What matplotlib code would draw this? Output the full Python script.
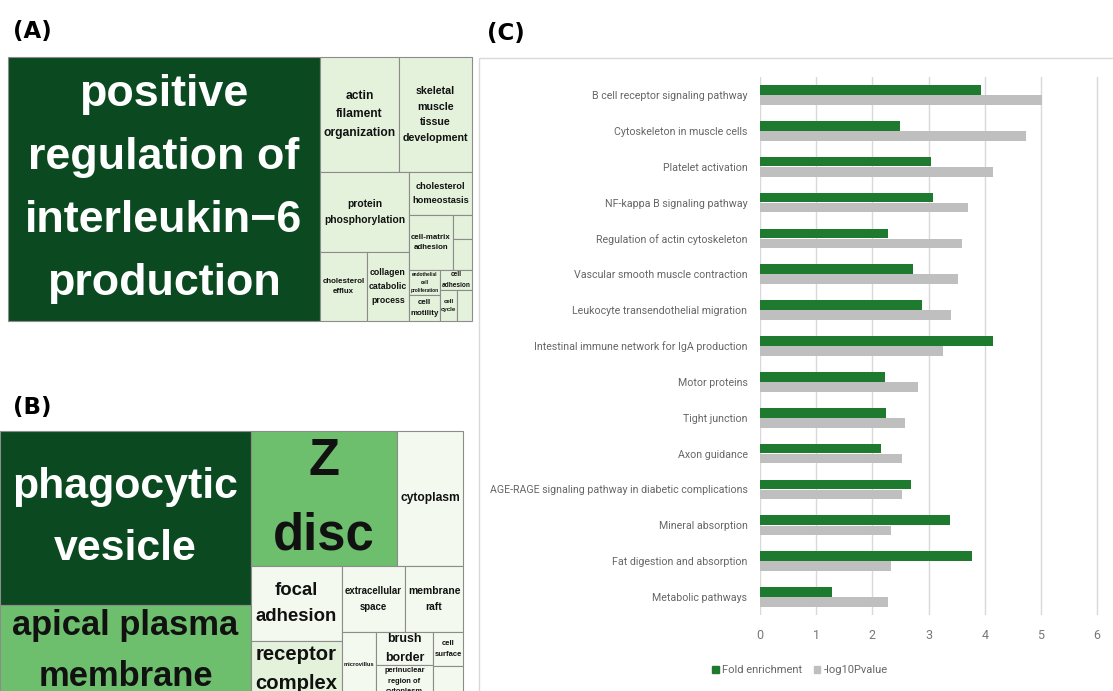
import matplotlib
matplotlib.use("Agg")
import matplotlib.pyplot as plt
from matplotlib.patches import Rectangle, Patch
import numpy as np


# ---------------- data ---------------- #

# (A) GO biological process treemap (term size ~ area)
bp_terms = ["positive\nregulation of\ninterleukin\u22126\nproduction",
            "actin\nfilament\norganization",
            "skeletal\nmuscle\ntissue\ndevelopment",
            "protein\nphosphorylation",
            "cholesterol\nefflux",
            "collagen\ncatabolic\nprocess",
            "cholesterol\nhomeostasis",
            "cell-matrix\nadhesion",
            "", "",
            "endothelial\ncell\nproliferation",
            "cell\nmotility",
            "cell\nadhesion",
            "cell\ncycle",
            ""]
bp_sizes = [823.7, 90.9, 84.0, 71.2, 32.4, 29.0, 27.1, 24.2, 4.6, 5.9,
            7.8, 8.1, 6.4, 5.3, 4.7]
bp_group = [3, 1, 1, 1, 1, 1, 1, 1, 1, 1, 1, 1, 1, 1, 1]

# (B) GO cellular component treemap
cc_terms = ["phagocytic\nvesicle",
            "apical plasma\nmembrane",
            "Z\ndisc",
            "cytoplasm",
            "focal\nadhesion",
            "receptor\ncomplex",
            "extracellular\nspace",
            "membrane\nraft",
            "microvillus",
            "brush\nborder",
            "perinuclear\nregion of\ncytoplasm",
            "cell\nsurface",
            ""]
cc_sizes = [436.7, 230.9, 197.1, 89.1, 68.3, 51.0, 41.6, 38.3, 22.1, 18.8,
            18.2, 10.2, 9.3]
cc_group = [3, 2, 2, 0, 0, 1, 0, 0, 0, 0, 0, 0, 0]

# (C) KEGG pathways
pathways = ["B cell receptor signaling pathway",
            "Cytoskeleton in muscle cells",
            "Platelet activation",
            "NF-kappa B signaling pathway",
            "Regulation of actin cytoskeleton",
            "Vascular smooth muscle contraction",
            "Leukocyte transendothelial migration",
            "Intestinal immune network for IgA production",
            "Motor proteins",
            "Tight junction",
            "Axon guidance",
            "AGE-RAGE signaling pathway in diabetic complications",
            "Mineral absorption",
            "Fat digestion and absorption",
            "Metabolic pathways"]
fold_enrichment = [3.94, 2.50, 3.05, 3.07, 2.27, 2.72, 2.88, 4.14, 2.23,
                   2.24, 2.16, 2.69, 3.39, 3.77, 1.29]
neg_log10_p = [5.02, 4.74, 4.15, 3.71, 3.59, 3.52, 3.40, 3.25, 2.82,
               2.58, 2.53, 2.52, 2.34, 2.33, 2.28]

# slice-and-dice structure of the treemaps ("h" = side by side, "v" = stacked)
bp_tree = ("h", [0, ("v", [("h", [1, 2]),
                           ("h", [("v", [3, ("h", [4, 5])]),
                                  ("v", [6, ("h", [7, ("v", [8, 9])]),
                                         ("h", [("v", [10, 11]),
                                                ("v", [12, ("h", [13, 14])])])])])])])
cc_tree = ("h", [("v", [0, 1]),
                 ("v", [("h", [2, 3]),
                        ("h", [("v", [4, 5]),
                               ("v", [("h", [6, 7]),
                                      ("h", [8, ("v", [9, 10]), ("v", [11, 12])])])])])])

tm_colors = ["#f3f9ef", "#e4f2dc", "#6dbf6d", "#0b4a20"]


# ---------------- treemap helpers ---------------- #

def node_total(node, sizes):
    if isinstance(node, int):
        return sizes[node]
    return sum(node_total(k, sizes) for k in node[1])


def slice_layout(node, sizes, x0, y0, x1, y1, out):
    if isinstance(node, int):
        out[node] = (x0, y0, x1, y1)
        return
    direction, kids = node
    totals = [node_total(k, sizes) for k in kids]
    s = sum(totals)
    pos = x0 if direction == "h" else y0
    for k, t in zip(kids, totals):
        if direction == "h":
            step = (x1 - x0) * t / s
            slice_layout(k, sizes, pos, y0, pos + step, y1, out)
        else:
            step = (y1 - y0) * t / s
            slice_layout(k, sizes, x0, pos, x1, pos + step, out)
        pos += step


def draw_treemap(ax, renderer, tree, terms, sizes, groups, rect):
    boxes = {}
    slice_layout(tree, sizes, *rect, boxes)
    for i, (x0, y0, x1, y1) in boxes.items():
        ax.add_patch(Rectangle((x0, y0), x1 - x0, y1 - y0,
                               facecolor=tm_colors[groups[i]],
                               edgecolor="#8c8c8c", lw=0.8))
        if not terms[i]:
            continue
        col = "white" if groups[i] == 3 else "#111111"
        t = ax.text((x0 + x1) / 2, (y0 + y1) / 2, terms[i], ha="center",
                    va="center", ma="center", fontsize=10, fontweight="bold",
                    family="Liberation Sans", color=col, linespacing=1.68)
        bb = t.get_window_extent(renderer)
        scale = min(0.9 * (x1 - x0) / bb.width, 0.96 * (y1 - y0) / bb.height)
        t.set_fontsize(10 * scale)


# ---------------- figure ---------------- #

fig = plt.figure(figsize=(11.13, 6.91), dpi=100)
tm = fig.add_axes([0, 0, 1, 1])
tm.set_xlim(0, 1113)
tm.set_ylim(691, 0)
tm.axis("off")
renderer = fig.canvas.get_renderer()

draw_treemap(tm, renderer, bp_tree, bp_terms, bp_sizes, bp_group, (8, 57, 472, 321))
draw_treemap(tm, renderer, cc_tree, cc_terms, cc_sizes, cc_group, (0, 431, 463, 697))

# panel frame for (C)
tm.add_patch(Rectangle((479, 58), 700, 700, facecolor="none",
                       edgecolor="#d9d9d9", lw=1))

tm.text(13, 31, "(A)", fontsize=16.5, fontweight="bold", va="center")
tm.text(13, 407, "(B)", fontsize=16.5, fontweight="bold", va="center")
tm.text(487, 33, "(C)", fontsize=16.5, fontweight="bold", va="center")

# ---------------- bar chart ---------------- #
ax = fig.add_axes([760 / 1113, 1 - 615 / 691, 354 / 1113, 538 / 691])
y = np.arange(len(pathways))
ax.barh(y - 0.14, fold_enrichment, height=0.27, color="#1e7a2e",
        label="Fold enrichment")
ax.barh(y + 0.14, neg_log10_p, height=0.27, color="#bfbfbf",
        label="-log10Pvalue")
ax.set_xlim(0, 6.3)
ax.set_ylim(len(pathways) - 0.5, -0.5)
ax.set_xticks(range(7))
ax.set_yticks(y)
ax.set_yticklabels(pathways, family="Roboto", fontsize=7.7, color="#666666")
for lab in ax.get_xticklabels():
    lab.set_family("Roboto")
ax.tick_params(axis="x", length=0, pad=10, labelsize=9, labelcolor="#777777")
ax.tick_params(axis="y", length=0, pad=9)
ax.set_axisbelow(True)
ax.xaxis.grid(True, color="#d9d9d9", lw=1)
for s in ax.spines.values():
    s.set_visible(False)
ax.patch.set_alpha(0)

handles = [Patch(color="#1e7a2e"), Patch(color="#bfbfbf")]
fig.legend(handles, ["Fold enrichment", "-log10Pvalue"], loc="center",
           bbox_to_anchor=(800 / 1113, 1 - 670 / 691), ncol=2, frameon=False,
           handlelength=0.6, handleheight=0.6, handletextpad=0.3,
           columnspacing=1.0, prop={"family": "Roboto", "size": 8},
           labelcolor="#666666")

fig.savefig("out.png", dpi=100)
